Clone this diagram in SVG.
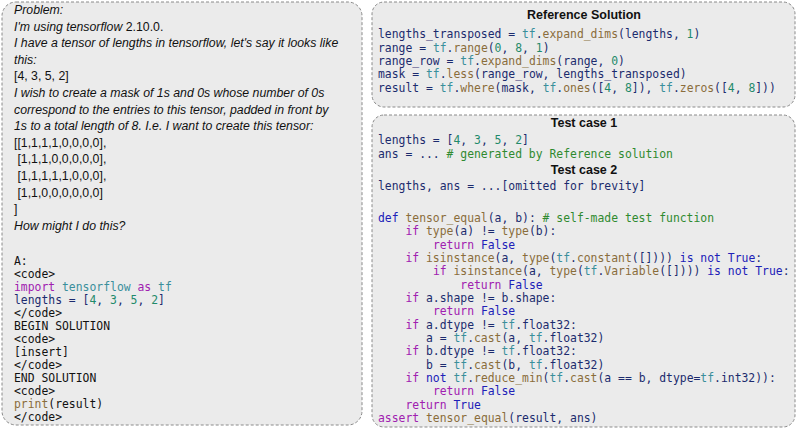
<svg xmlns="http://www.w3.org/2000/svg" width="800" height="430" viewBox="0 0 800 430">
<style>
.box{fill:#ebebeb;stroke:#8a8a8a;stroke-width:1;stroke-dasharray:3,2}
.p{font-family:"Liberation Sans",Arial,sans-serif;font-size:12.3px;font-style:italic;fill:#111}
.pn{font-family:"Liberation Sans",Arial,sans-serif;font-size:12.3px;fill:#111}
.h{font-family:"Liberation Sans",Arial,sans-serif;font-size:12.5px;font-weight:bold;fill:#111;text-anchor:middle}
.c{font-family:"DejaVu Sans Mono",monospace;font-size:11.4px;fill:#1c2b6e;white-space:pre}
.k{fill:#a020b0}.b{fill:#2020b8}.t{fill:#3a8f9b}.f{fill:#8a6d3b}.n{fill:#1f8a6a}.g{fill:#2f8a2f}.bl{fill:#111}
</style>
<g id="problem">
<rect class="box" x="2" y="2" width="360" height="423" rx="14"/>
<text class="p" x="14" y="14">Problem:</text>
<text class="p" x="14" y="31">I'm using tensorflow <tspan font-style="normal">2.10.0.</tspan></text>
<text class="p" x="14" y="47">I have a tensor of lengths in tensorflow, let's say it looks like</text>
<text class="p" x="14" y="64">this:</text>
<text class="pn" x="14" y="80">[4, 3, 5, 2]</text>
<text class="p" x="14" y="97">I wish to create a mask of 1s and 0s whose number of 0s</text>
<text class="p" x="14" y="114">correspond to the entries to this tensor, padded in front by</text>
<text class="p" x="14" y="130">1s to a total length of 8. I.e. I want to create this tensor:</text>
<text class="pn" x="14" y="147">[[1,1,1,1,0,0,0,0],</text>
<text class="pn" x="14" y="163" xml:space="preserve"> [1,1,1,0,0,0,0,0],</text>
<text class="pn" x="14" y="180" xml:space="preserve"> [1,1,1,1,1,0,0,0],</text>
<text class="pn" x="14" y="197" xml:space="preserve"> [1,1,0,0,0,0,0,0]</text>
<text class="pn" x="14" y="213">]</text>
<text class="p" x="14" y="230">How might I do this?</text>
<text class="c bl" x="14" y="265">A:</text>
<text class="c bl" x="14" y="278">&lt;code&gt;</text>
<text class="c" x="14" y="291" xml:space="preserve"><tspan class="k">import</tspan> <tspan class="t">tensorflow</tspan> <tspan class="k">as</tspan> <tspan class="t">tf</tspan></text>
<text class="c" x="14" y="304" xml:space="preserve">lengths = [<tspan class="n">4</tspan>, <tspan class="n">3</tspan>, <tspan class="n">5</tspan>, <tspan class="n">2</tspan>]</text>
<text class="c bl" x="14" y="317">&lt;/code&gt;</text>
<text class="c bl" x="14" y="330">BEGIN SOLUTION</text>
<text class="c bl" x="14" y="343">&lt;code&gt;</text>
<text class="c bl" x="14" y="356">[insert]</text>
<text class="c bl" x="14" y="369">&lt;/code&gt;</text>
<text class="c bl" x="14" y="382">END SOLUTION</text>
<text class="c bl" x="14" y="395">&lt;code&gt;</text>
<text class="c bl" x="14" y="408"><tspan class="f">print</tspan>(result)</text>
<text class="c bl" x="14" y="421">&lt;/code&gt;</text>
</g>
<g id="reference">
<rect class="box" x="372" y="2" width="423" height="105" rx="12"/>
<text class="h" x="584" y="19">Reference Solution</text>
<text class="c" x="378" y="38" xml:space="preserve">lengths_transposed = <tspan class="t">tf</tspan>.<tspan class="f">expand_dims</tspan>(lengths, <tspan class="n">1</tspan>)</text>
<text class="c" x="378" y="52" xml:space="preserve">range = <tspan class="t">tf</tspan>.<tspan class="f">range</tspan>(<tspan class="n">0</tspan>, <tspan class="n">8</tspan>, <tspan class="n">1</tspan>)</text>
<text class="c" x="378" y="65" xml:space="preserve">range_row = <tspan class="t">tf</tspan>.<tspan class="f">expand_dims</tspan>(range, <tspan class="n">0</tspan>)</text>
<text class="c" x="378" y="78" xml:space="preserve">mask = <tspan class="t">tf</tspan>.<tspan class="f">less</tspan>(range_row, lengths_transposed)</text>
<text class="c" x="378" y="92" xml:space="preserve">result = <tspan class="t">tf</tspan>.<tspan class="f">where</tspan>(mask, <tspan class="t">tf</tspan>.<tspan class="f">ones</tspan>([<tspan class="n">4</tspan>, <tspan class="n">8</tspan>]), <tspan class="t">tf</tspan>.<tspan class="f">zeros</tspan>([<tspan class="n">4</tspan>, <tspan class="n">8</tspan>]))</text>
</g>
<g id="tests">
<rect class="box" x="372" y="115" width="423" height="312" rx="12"/>
<text class="h" x="584" y="127">Test case 1</text>
<text class="c" x="378" y="144" xml:space="preserve">lengths = [<tspan class="n">4</tspan>, <tspan class="n">3</tspan>, <tspan class="n">5</tspan>, <tspan class="n">2</tspan>]</text>
<text class="c" x="378" y="158" xml:space="preserve">ans = ... <tspan class="g"># generated by Reference solution</tspan></text>
<text class="h" x="584" y="174">Test case 2</text>
<text class="c" x="378" y="190" xml:space="preserve">lengths, ans = ...[omitted for brevity]</text>
<text class="c" x="378" y="222" xml:space="preserve"><tspan class="b">def</tspan> <tspan class="f">tensor_equal</tspan>(a, b): <tspan class="g"># self-made test function</tspan></text>
<text class="c" x="378" y="235" xml:space="preserve">    <tspan class="k">if</tspan> <tspan class="f">type</tspan>(a) != <tspan class="f">type</tspan>(b):</text>
<text class="c" x="378" y="249" xml:space="preserve">        <tspan class="k">return</tspan> <tspan class="b">False</tspan></text>
<text class="c" x="378" y="262" xml:space="preserve">    <tspan class="k">if</tspan> <tspan class="f">isinstance</tspan>(a, <tspan class="f">type</tspan>(<tspan class="t">tf</tspan>.<tspan class="f">constant</tspan>([]))) <tspan class="b">is not</tspan> <tspan class="b">True</tspan>:</text>
<text class="c" x="378" y="275" xml:space="preserve">        <tspan class="k">if</tspan> <tspan class="f">isinstance</tspan>(a, <tspan class="f">type</tspan>(<tspan class="t">tf</tspan>.<tspan class="f">Variable</tspan>([]))) <tspan class="b">is not</tspan> <tspan class="b">True</tspan>:</text>
<text class="c" x="378" y="289" xml:space="preserve">            <tspan class="k">return</tspan> <tspan class="b">False</tspan></text>
<text class="c" x="378" y="302" xml:space="preserve">    <tspan class="k">if</tspan> a.shape != b.shape:</text>
<text class="c" x="378" y="315" xml:space="preserve">        <tspan class="k">return</tspan> <tspan class="b">False</tspan></text>
<text class="c" x="378" y="329" xml:space="preserve">    <tspan class="k">if</tspan> a.dtype != <tspan class="t">tf</tspan>.float32:</text>
<text class="c" x="378" y="342" xml:space="preserve">       a = <tspan class="t">tf</tspan>.<tspan class="f">cast</tspan>(a, <tspan class="t">tf</tspan>.float32)</text>
<text class="c" x="378" y="355" xml:space="preserve">    <tspan class="k">if</tspan> b.dtype != <tspan class="t">tf</tspan>.float32:</text>
<text class="c" x="378" y="369" xml:space="preserve">       b = <tspan class="t">tf</tspan>.<tspan class="f">cast</tspan>(b, <tspan class="t">tf</tspan>.float32)</text>
<text class="c" x="378" y="382" xml:space="preserve">    <tspan class="k">if</tspan> <tspan class="b">not</tspan> <tspan class="t">tf</tspan>.<tspan class="f">reduce_min</tspan>(<tspan class="t">tf</tspan>.<tspan class="f">cast</tspan>(a == b, dtype=<tspan class="t">tf</tspan>.int32)):</text>
<text class="c" x="378" y="395" xml:space="preserve">        <tspan class="k">return</tspan> <tspan class="b">False</tspan></text>
<text class="c" x="378" y="409" xml:space="preserve">    <tspan class="k">return</tspan> <tspan class="b">True</tspan></text>
<text class="c" x="378" y="422" xml:space="preserve"><tspan class="k">assert</tspan> <tspan class="f">tensor_equal</tspan>(result, ans)</text>
</g>
</svg>
